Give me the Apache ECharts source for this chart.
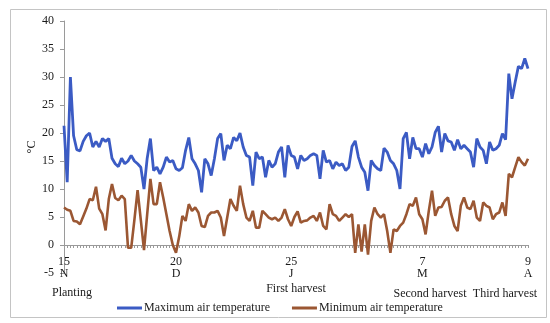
<!DOCTYPE html>
<html><head><meta charset="utf-8">
<script src="https://cdn.jsdelivr.net/npm/echarts@6/dist/echarts.min.js"></script>
<style>html,body{margin:0;padding:0;background:#fff}#c{width:550px;height:323px}</style>
</head><body><div id="c"></div>
<script>
// ---- data ----
const startDate = '2017-11-15';
const dayCount = 146;
const tickDates = ['2017-11-15', '2017-12-20', '2018-01-25', '2018-03-07', '2018-04-09'];
const tickLabels = ['15\nN', '20\nD', '25\nJ', '7\nM', '9\nA'];
const stageLabels = ['Planting', 'First harvest', 'Second harvest', 'Third harvest'];
const seriesNames = ['Maximum air temperature', 'Minimum air temperature'];
const yMin = -5, yMax = 40, yStep = 5;
const yName = '°C';

const maxTemp = [
  21.3, 11.2, 30.0, 19.5, 17.0, 16.8, 18.5, 19.5, 20.0, 17.5,
  18.5, 17.5, 19.0, 18.5, 19.0, 15.5, 14.5, 14.0, 15.5, 14.5,
  15.0, 16.0, 15.0, 14.5, 13.9, 10.0, 15.5, 19.0, 13.3, 13.9,
  12.7, 13.9, 15.7, 14.8, 15.1, 13.6, 13.3, 13.8, 16.9, 19.2,
  15.4, 14.5, 13.3, 9.4, 15.4, 14.5, 12.4, 15.4, 19.0, 19.9,
  15.1, 17.8, 17.2, 19.2, 18.6, 20.0, 17.5, 16.0, 15.7, 10.6,
  16.6, 15.4, 15.7, 12.1, 15.1, 13.9, 14.5, 16.6, 17.5, 12.1,
  17.8, 16.0, 15.7, 13.6, 16.0, 15.1, 15.4, 16.0, 16.3, 16.0,
  11.8, 16.9, 14.8, 15.1, 13.6, 14.8, 14.2, 14.5, 13.3, 13.9,
  17.6, 18.6, 15.7, 13.9, 13.0, 9.7, 15.1, 14.2, 13.6, 13.3,
  17.3, 16.6, 15.1, 14.5, 13.3, 10.0, 19.0, 20.1, 15.4, 19.2,
  17.2, 17.2, 15.7, 18.1, 16.3, 17.5, 20.1, 21.2, 16.6, 19.9,
  18.6, 18.4, 16.9, 18.8, 17.2, 17.8, 17.2, 16.6, 13.9, 19.0,
  17.5, 16.9, 14.5, 18.4, 16.9, 17.2, 17.8, 19.9, 18.8, 30.6,
  26.1, 29.1, 31.9, 31.5, 33.3, 31.5
];
const minTemp = [
  6.7, 6.3, 6.1, 4.3, 4.2, 3.7, 5.1, 6.5, 8.2, 8.0,
  10.4, 6.5, 5.5, 2.6, 8.2, 10.9, 8.4, 8.0, 8.8, 8.2,
  -0.5, -0.5, 4.5, 9.8, 4.5, -0.9, 5.5, 11.8, 7.3, 7.3,
  11.2, 8.5, 5.5, 2.5, 0.0, -1.4, 1.5, 5.2, 4.3, 7.3,
  6.1, 6.7, 5.8, 3.4, 3.2, 5.2, 5.8, 5.8, 6.1, 4.9,
  1.6, 4.9, 8.2, 7.0, 6.1, 10.6, 7.3, 4.9, 4.3, 6.1,
  3.1, 3.1, 6.1, 5.5, 4.9, 4.6, 4.9, 4.3, 4.9, 6.4,
  4.6, 3.4, 5.0, 6.0, 4.0, 4.3, 4.4, 4.9, 5.2, 4.3,
  5.8, 3.4, 2.8, 7.3, 5.5, 5.2, 4.3, 4.9, 5.5, 5.0,
  5.5, -1.4, 3.7, -1.2, 3.7, -1.7, 4.3, 6.7, 5.5, 4.9,
  5.5, 2.5, -1.4, 2.8, 2.5, 3.4, 4.0, 5.5, 7.3, 7.0,
  8.5, 5.5, 4.6, 1.9, 6.1, 9.7, 5.2, 6.7, 6.8, 7.9,
  8.5, 5.5, 3.4, 2.5, 7.0, 8.5, 6.7, 6.4, 7.9, 4.9,
  4.3, 7.6, 7.0, 6.7, 4.6, 5.5, 5.8, 7.6, 5.2, 12.7,
  12.1, 13.9, 15.7, 14.8, 14.2, 15.4
];

// ---- categories (daily dates) ----
const categories = [];
(function () {
  const d0 = new Date(startDate + 'T00:00:00Z');
  for (let i = 0; i < dayCount; i++) {
    const d = new Date(d0.getTime() + i * 86400000);
    categories.push(d.toISOString().slice(0, 10));
  }
})();

const FONT = '"Liberation Serif", "DejaVu Serif", serif';
const TXT = '#1a1a1a';
const AX = '#9a9a9a';
const BLUE = '#3b5bc4';
const BROWN = '#9b5733';

const GRID = { left: 64, right: 22, top: 21, bottom: 50 };
const gridH = 323 - GRID.top - GRID.bottom;
// move the category axis up to the zero line of the value scale
const xOffset = -gridH * (0 - yMin) / (yMax - yMin);

const chart = echarts.init(document.getElementById('c'), null, { renderer: 'canvas' });

const stagePos = [[72, 293], [296, 289], [430, 294], [505, 294]];

chart.setOption({
  animation: false,
  backgroundColor: '#ffffff',
  textStyle: { fontFamily: FONT },
  grid: { left: GRID.left, right: GRID.right, top: GRID.top, bottom: GRID.bottom, containLabel: false },
  legend: {
    data: seriesNames,
    left: 112, top: 297,
    icon: 'rect', itemWidth: 25, itemHeight: 3, itemGap: 22,
    textStyle: { fontFamily: FONT, fontSize: 12, color: TXT, padding: [0, 0, 0, -3] }
  },
  xAxis: {
    type: 'category',
    data: categories,
    boundaryGap: false,
    offset: xOffset,
    axisLine: { onZero: false, lineStyle: { color: AX, width: 1 } },
    axisTick: { show: true, interval: 0, length: 3, lineStyle: { color: AX } },
    axisLabel: {
      interval: function (idx, val) { return tickDates.indexOf(val) >= 0; },
      formatter: function (val) { const k = tickDates.indexOf(val); return k >= 0 ? tickLabels[k] : ''; },
      fontFamily: FONT, fontSize: 12, color: TXT, lineHeight: 12, margin: 11,
      showMinLabel: true, showMaxLabel: true, hideOverlap: false
    },
    splitLine: { show: false }
  },
  yAxis: {
    type: 'value',
    min: yMin, max: yMax, interval: yStep,
    name: yName, nameLocation: 'middle', nameGap: 26, nameRotate: 90,
    nameMoveOverlap: false,
    nameTextStyle: { fontFamily: FONT, fontSize: 12, color: TXT },
    axisLine: { show: true, lineStyle: { color: AX, width: 1 } },
    axisTick: { show: true, length: 4, lineStyle: { color: AX } },
    axisLabel: { fontFamily: FONT, fontSize: 12, color: TXT, margin: 10 },
    splitLine: { show: false }
  },
  series: [
    {
      name: seriesNames[0], type: 'line', data: maxTemp,
      showSymbol: false, symbol: 'none',
      lineStyle: { color: BLUE, width: 2.8 }, itemStyle: { color: BLUE }
    },
    {
      name: seriesNames[1], type: 'line', data: minTemp,
      showSymbol: false, symbol: 'none',
      lineStyle: { color: BROWN, width: 2.6 }, itemStyle: { color: BROWN }
    }
  ],
  graphic: [
    {
      type: 'rect', left: 8, top: 7, silent: true,
      shape: { width: 536, height: 308 },
      style: { fill: 'none', stroke: '#c4c4c4', lineWidth: 1 }
    }
  ].concat(stageLabels.map(function (t, i) {
    return {
      type: 'text', x: stagePos[i][0], y: stagePos[i][1], silent: true,
      style: { text: t, fill: TXT, font: '12px ' + FONT, align: 'center', verticalAlign: 'middle' }
    };
  }))
});
</script>
</body></html>
